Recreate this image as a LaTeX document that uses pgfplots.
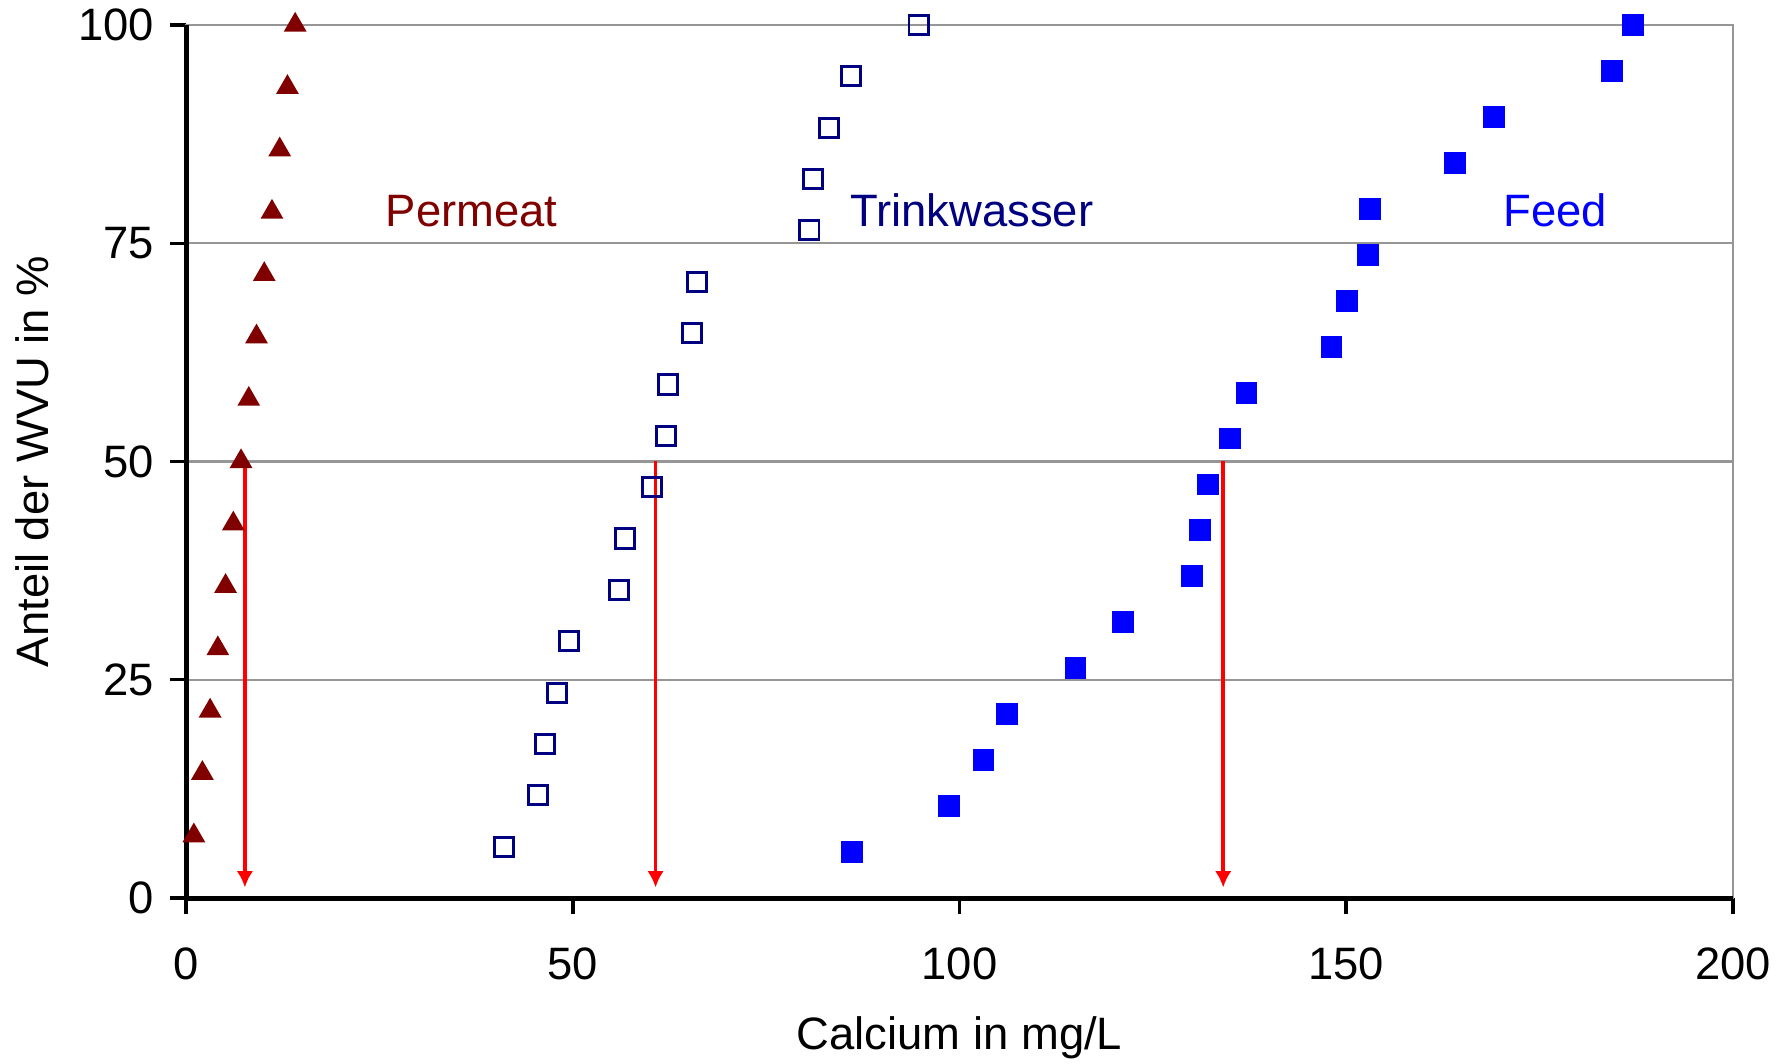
\documentclass[border=0pt]{standalone}
\usepackage{fontspec}
\setmainfont{Liberation Sans}
\usepackage{pgfplots}
\usepackage{pgfplotstable}
\pgfplotsset{compat=1.18}
\usetikzlibrary{arrows.meta}

\definecolor{permeatcol}{RGB}{128,0,0}
\definecolor{trinkcol}{RGB}{0,0,128}
\definecolor{feedcol}{RGB}{0,0,255}
\definecolor{gridgray}{RGB}{150,150,150}

% Calcium (mg/L) vs. Summenhaeufigkeit (%)
\pgfplotstableread{
x y
1.0 7.14
2.1 14.29
3.1 21.43
4.1 28.57
5.1 35.71
6.1 42.86
7.1 50.00
8.1 57.14
9.1 64.29
10.1 71.43
11.1 78.57
12.1 85.71
13.1 92.86
14.1 100.00
}\tabPermeat

\pgfplotstableread{
x y
41.1 5.88
45.5 11.76
46.4 17.65
47.9 23.53
49.5 29.41
56.0 35.29
56.7 41.18
60.2 47.06
62.1 52.94
62.3 58.82
65.4 64.71
66.1 70.59
80.6 76.47
81.1 82.35
83.1 88.24
86.0 94.12
94.7 100.00
}\tabTrink

\pgfplotstableread{
x y
86.1 5.26
98.6 10.53
103.1 15.79
106.1 21.05
115.0 26.32
121.1 31.58
130.1 36.84
131.1 42.11
132.1 47.37
135.0 52.63
137.1 57.89
148.1 63.16
150.1 68.42
152.8 73.68
153.1 78.95
164.1 84.21
169.1 89.47
184.4 94.74
187.1 100.00
}\tabFeed

\begin{document}
\begin{tikzpicture}
\useasboundingbox (-41pt,-36.4pt) rectangle (353.5pt,197.8pt);
\begin{axis}[
    at={(0,0)}, anchor=south west,
    scale only axis, width=340.7pt, height=192.3pt,
    xmin=0, xmax=200, ymin=0, ymax=100,
    xtick={0,50,...,200}, ytick={0,25,...,100},
    ymajorgrids, grid style={gridgray, line width=0.45pt},
    axis line style={gridgray, line width=0.45pt},
    tick pos=left, tick align=outside, major tick length=3.5pt,
    tick style={black, line width=0.75pt},
    /pgf/number format/assume math mode=true,
    xticklabel style={anchor=north, yshift=-4pt},
    yticklabel style={anchor=east},
    xlabel={Calcium in mg/L}, ylabel={Anteil der WVU in \%},
    xlabel style={at={(axis description cs:0.5,-0.1597)}, anchor=center},
    ylabel style={at={(axis description cs:-0.0998,0.5)}, anchor=center},
    clip=false,
  ]
  \addplot[only marks, mark=triangle*, mark size=2.5pt, color=permeatcol] table {\tabPermeat};
  \addplot[only marks, mark=square, mark size=2.1pt, color=trinkcol, mark options={line width=0.65pt}] table {\tabTrink};
  \addplot[only marks, mark=square*, mark size=2.2pt, color=feedcol] table {\tabFeed};

  \draw[black, line width=1.1pt] (rel axis cs:0,1) -- (rel axis cs:0,0) -- (rel axis cs:1,0);

  \addplot[red, line width=0.8pt, -{Latex[length=3.6pt,width=3.6pt]}] coordinates {(7.6,50) (7.6,1.2)};
  \addplot[red, line width=0.8pt, -{Latex[length=3.6pt,width=3.6pt]}] coordinates {(60.7,50) (60.7,1.2)};
  \addplot[red, line width=0.8pt, -{Latex[length=3.6pt,width=3.6pt]}] coordinates {(134.1,50) (134.1,1.2)};

  \node[anchor=base, text=permeatcol] at (axis cs:36.9,76.9) {Permeat};
  \node[anchor=base, text=trinkcol] at (axis cs:101.6,76.9) {Trinkwasser};
  \node[anchor=base, text=feedcol] at (axis cs:177.0,76.9) {Feed};
\end{axis}
\end{tikzpicture}
\end{document}
